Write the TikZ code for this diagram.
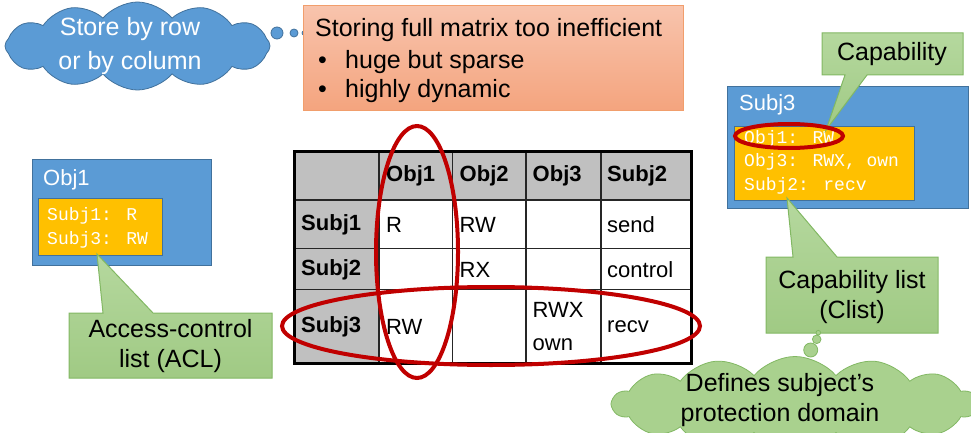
\documentclass[tikz,border=0pt]{standalone}
\usepackage{fontspec}
\setmainfont{Liberation Sans}
\newfontfamily\twfont{Liberation Mono}
\usetikzlibrary{shapes.symbols,shapes.geometric,calc}
\definecolor{cblue}{HTML}{5B9BD5}
\definecolor{cblueD}{HTML}{41719C}
\definecolor{cyel}{HTML}{FFC000}
\definecolor{cred}{HTML}{C00000}
\definecolor{cgT}{HTML}{B5D89E}
\definecolor{cgB}{HTML}{A0CA84}
\definecolor{cgF}{HTML}{A9D18E}
\definecolor{cgD}{HTML}{82B863}
\definecolor{coT}{HTML}{F8C4AD}
\definecolor{coB}{HTML}{F4A47E}
\definecolor{coD}{HTML}{F19E6C}
\definecolor{cgray}{HTML}{C0C0C0}
\begin{document}
\begin{tikzpicture}[x=1pt,y=-1pt,
  bluebox/.style={fill=cblue,draw=cblueD,line width=0.8pt,inner sep=0pt,anchor=north west},
  yelbox/.style={fill=cyel,draw=cblueD,line width=0.8pt,inner sep=0pt,anchor=north west},
  greenshape/.style={top color=cgT,bottom color=cgB,draw=cgD,line width=1pt},
  ring/.style={ellipse,draw=cred,line width=4pt,inner sep=0pt},
  big/.style={font=\fontsize{25}{30}\selectfont,inner sep=0pt},
  tbl/.style={font=\fontsize{22}{26}\selectfont,anchor=west,inner sep=0pt},
  tblh/.style={font=\fontsize{22}{26}\selectfont\bfseries,anchor=west,inner sep=0pt},
  tw/.style={font=\fontsize{18}{23.5}\selectfont\twfont,text=white,align=left,anchor=west,inner sep=0pt},
  boxtitle/.style={font=\fontsize{22}{26}\selectfont,text=white,anchor=west,inner sep=0pt},
  gridline/.style={line width=1.2pt,black!85},
  bubble/.style={circle,inner sep=0pt,line width=0.8pt},
]
\useasboundingbox (0,0) rectangle (971,433);

% ---- blue cloud
\node[cloud, cloud puffs=12, cloud puff arc=100, aspect=3, fill=cblue, draw=cblueD,
      line width=0.8pt, minimum width=265pt, minimum height=88pt, inner sep=0pt] (bcloud) at (137.5,46) {};
\node[big, font=\fontsize{25}{34}\selectfont, text=white, align=center] (bcloudtext) at (130,46) {Store by row\\or by column};
\node[bubble, fill=cblue, draw=cblueD, minimum size=12pt] (bb1) at (277,33) {};
\node[bubble, fill=cblue, draw=cblueD, minimum size=8pt] (bb2) at (294,33) {};
\node[bubble, fill=cblue, draw=cblueD, minimum size=4pt] (bb3) at (304,33) {};

% ---- orange box
\node[top color=coT, bottom color=coB, draw=coD, line width=1pt, minimum width=380pt,
      minimum height=105pt, anchor=north west, inner sep=0pt] (obox) at (303,5) {};
\node[big, anchor=base west] (ot1) at (315,37) {Storing full matrix too inefficient};
\node[big, anchor=base west] (ob1) at (318,69) {\textbullet};
\node[big, anchor=base west] (ot2) at (345,69) {huge but sparse};
\node[big, anchor=base west] (ob2) at (318,98) {\textbullet};
\node[big, anchor=base west] (ot3) at (345,98) {highly dynamic};

% ---- table
\fill[cgray] (294,151.7) rectangle (691,200);
\fill[cgray] (294,200) rectangle (379,363.3);
\foreach \x in {379,452.7,526,601} \draw[gridline] (\x,151.7) -- (\x,363.3);
\foreach \y in {200,248.3,289.3} \draw[gridline] (294,\y) -- (691,\y);
\draw[line width=3pt] (294,151.7) rectangle (691,363.3);
\node[tblh] (h1) at (386,176) {Obj1};
\node[tblh] (h2) at (459.5,176) {Obj2};
\node[tblh] (h3) at (532.5,176) {Obj3};
\node[tblh] (h4) at (607,176) {Subj2};
\node[tblh] (r1) at (301,225) {Subj1};
\node[tblh] (r2) at (301,270) {Subj2};
\node[tblh] (r3) at (301,327) {Subj3};
\node[tbl] (c11) at (386,225) {R};
\node[tbl] (c12) at (459.5,225) {RW};
\node[tbl] (c14) at (607,225) {send};
\node[tbl] (c22) at (459.5,270) {RX};
\node[tbl] (c24) at (607,270) {control};
\node[tbl] (c31) at (386,327) {RW};
\node[tbl] (c33a) at (532.5,310) {RWX};
\node[tbl] (c33b) at (532.5,345) {own};
\node[tbl] (c34) at (607,327) {recv};

% ---- red rings on table
\node[ring, minimum width=82pt, minimum height=252pt] (colring) at (417,252) {};
\node[ring, minimum width=418pt, minimum height=78pt] (rowring) at (491,326) {};

% ---- Obj1 box
\node[bluebox, minimum width=179pt, minimum height=105.7pt] (obj1) at (31.7,159.3) {};
\node[boxtitle] (obj1t) at (43,180) {Obj1};
\node[yelbox, minimum width=123.4pt, minimum height=56.7pt] (acllist) at (38.3,198.3) {};
\node[tw] (acltxt) at (47,228) {Subj1: R\\Subj3: RW};

% ---- Subj3 box
\node[bluebox, minimum width=241pt, minimum height=122.3pt] (subj3) at (727.3,86) {};
\node[boxtitle] (subj3t) at (739,105) {Subj3};
\node[yelbox, minimum width=180pt, minimum height=74.3pt] (clistbox) at (734,125.7) {};
\node[tw] (clisttxt) at (744,162) {Obj1: RW\\Obj3: RWX, own\\Subj2: recv};

% ---- callouts
\coordinate (acltip) at (97,254);
\draw[greenshape] (69,313) -- (103,313) -- (acltip) -- (153,313) -- (272,313) -- (272,378) -- (69,378) -- cycle;
\node[big, align=center] (acltext) at (170.5,346) {Access-control\\list (ACL)};

\coordinate (captip) at (826,130);
\draw[greenshape] (822,33) -- (963,33) -- (963,75) -- (867,75) -- (captip) -- (845,75) -- (822,75) -- cycle;
\node[big] (captext) at (892,54) {Capability};

\coordinate (cltip) at (787,198);
\draw[greenshape] (766,257) -- (793,257) -- (cltip) -- (837,257) -- (938,257) -- (938,333) -- (766,333) -- cycle;
\node[big, align=center] (cltext) at (852,297) {Capability list\\(Clist)};

\node[ring, minimum width=108pt, minimum height=24pt] (capring) at (789,136) {};

% ---- green cloud
\node[cloud, cloud puffs=14, cloud puff arc=100, aspect=4, fill=cgF, draw=cgD,
      line width=0.8pt, minimum width=365pt, minimum height=95pt, inner sep=0pt] (gcloud) at (795,404) {};
\node[big, align=center] (gcloudtext) at (780,400) {Defines subject’s\\protection domain};
\node[bubble, fill=cgF, draw=cgD, minimum size=14pt] (gb1) at (810.7,350) {};
\node[bubble, fill=cgF, draw=cgD, minimum size=8.6pt] (gb2) at (816.7,339.3) {};
\node[bubble, fill=cgF, draw=cgD, minimum size=4.6pt] (gb3) at (818.3,332.7) {};
\end{tikzpicture}
\end{document}
